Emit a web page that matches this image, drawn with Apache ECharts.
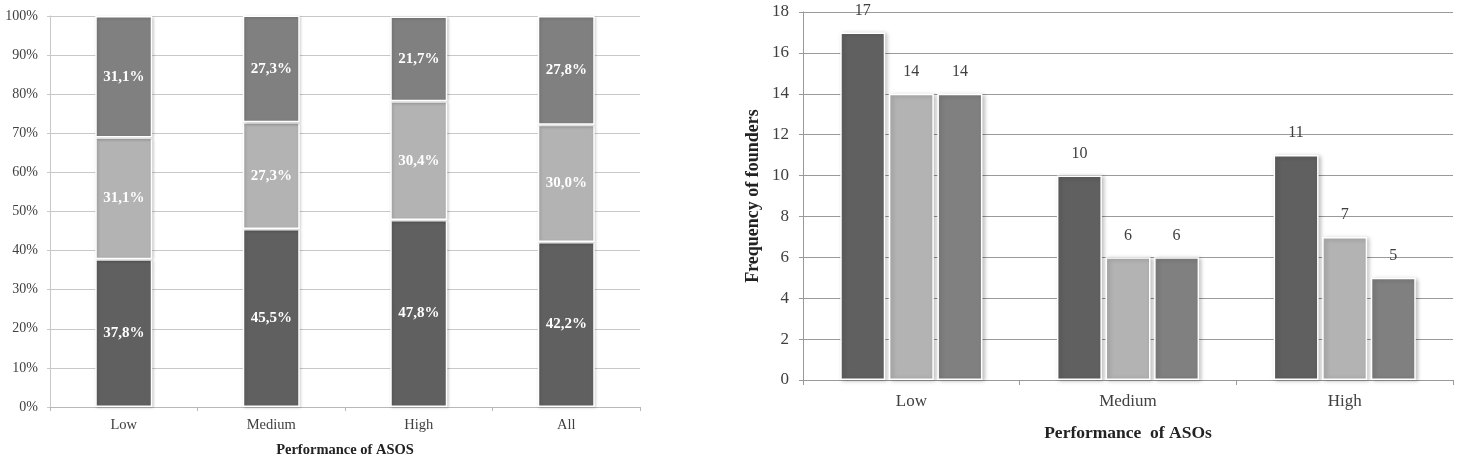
<!DOCTYPE html>
<html>
<head>
<meta charset="utf-8">
<script src="https://cdn.jsdelivr.net/npm/echarts@6/dist/echarts.min.js"></script>
<style>
  html, body { margin: 0; padding: 0; background: #fff; }
  #chart { width: 1457px; height: 456px; }
</style>
</head>
<body>
<div id="chart"></div>
<script>
// left chart: share of founders (percent, stacked)
const leftCats = ['Low', 'Medium', 'High', 'All'];
const leftBottom = [37.8, 45.5, 47.8, 42.2];
const leftMiddle = [31.1, 27.3, 30.4, 30.0];
const leftTop = [31.1, 27.3, 21.7, 27.8];

// right chart: frequency of founders
const rightCats = ['Low', 'Medium', 'High'];
const rightFirst = [17, 10, 11];
const rightSecond = [14, 6, 7];
const rightThird = [14, 6, 5];

const serif = "'Liberation Serif', 'Times New Roman', serif";
const dark = '#606060', light = '#b3b3b3', mid = '#808080';

const chart = echarts.init(document.getElementById('chart'));

function pct(p) {
  return p.value.toFixed(1).replace('.', ',') + '%';
}

function stackSeries(data, color) {
  return {
    type: 'bar',
    xAxisIndex: 0,
    yAxisIndex: 0,
    stack: 'share',
    data: data,
    barWidth: 57,
    itemStyle: {
      color: color,
      borderColor: '#fff',
      borderWidth: 1.5,
      shadowColor: 'rgba(0,0,0,0.2)',
      shadowBlur: 3,
      shadowOffsetX: 1,
      shadowOffsetY: 1
    },
    label: {
      show: true,
      position: 'inside',
      formatter: pct,
      color: '#fff',
      fontFamily: serif,
      fontWeight: 'bold',
      fontSize: 15
    }
  };
}

function freqSeries(data, color) {
  return {
    type: 'bar',
    xAxisIndex: 1,
    yAxisIndex: 1,
    data: data,
    barWidth: 45,
    barGap: '8%',
    itemStyle: {
      color: color,
      borderColor: '#fff',
      borderWidth: 1.5,
      shadowColor: 'rgba(0,0,0,0.25)',
      shadowBlur: 4,
      shadowOffsetX: 2,
      shadowOffsetY: 1
    },
    label: {
      show: true,
      position: 'top',
      distance: 14,
      color: '#404040',
      fontFamily: serif,
      fontSize: 16
    }
  };
}

const option = {
  animation: false,
  textStyle: { fontFamily: serif },
  grid: [
    { left: 50, top: 16, width: 590, height: 391, outerBoundsMode: 'none' },
    { left: 803, top: 12, width: 650, height: 368, outerBoundsMode: 'none' }
  ],
  xAxis: [
    {
      gridIndex: 0,
      type: 'category',
      data: leftCats,
      axisLine: { show: true, lineStyle: { color: '#b8b8b8' } },
      axisTick: { show: true, length: 4, lineStyle: { color: '#b8b8b8' } },
      axisLabel: { color: '#404040', fontSize: 14.5, margin: 11, fontFamily: serif },
      name: 'Performance of ASOS',
      nameLocation: 'middle',
      nameGap: 36,
      nameTextStyle: { color: '#222', fontWeight: 'bold', fontSize: 14.5, fontFamily: serif }
    },
    {
      gridIndex: 1,
      type: 'category',
      data: rightCats,
      axisLine: { show: true, lineStyle: { color: '#999' } },
      axisTick: { show: true, length: 5, lineStyle: { color: '#999' } },
      axisLabel: { color: '#404040', fontSize: 17, margin: 13, fontFamily: serif },
      name: 'Performance  of ASOs',
      nameLocation: 'middle',
      nameGap: 44,
      nameTextStyle: { color: '#222', fontWeight: 'bold', fontSize: 17.5, fontFamily: serif }
    }
  ],
  yAxis: [
    {
      gridIndex: 0,
      type: 'value',
      min: 0,
      max: 100,
      interval: 10,
      axisLine: { show: true, lineStyle: { color: '#c8c8c8' } },
      axisTick: { show: true, length: 3, lineStyle: { color: '#c8c8c8' } },
      axisLabel: { color: '#404040', fontSize: 14, margin: 12, formatter: '{value}%', fontFamily: serif },
      splitLine: { show: true, lineStyle: { color: '#c8c8c8' } }
    },
    {
      gridIndex: 1,
      type: 'value',
      min: 0,
      max: 18,
      interval: 2,
      axisLine: { show: true, lineStyle: { color: '#999' } },
      axisTick: { show: true, length: 4, lineStyle: { color: '#999' } },
      axisLabel: { color: '#404040', fontSize: 17, margin: 14, fontFamily: serif },
      splitLine: { show: true, lineStyle: { color: '#9a9a9a' } },
      name: 'Frequency of founders',
      nameLocation: 'middle',
      nameGap: 41,
      nameTextStyle: { color: '#222', fontWeight: 'bold', fontSize: 18, fontFamily: serif }
    }
  ],
  series: [
    stackSeries(leftBottom, dark),
    stackSeries(leftMiddle, light),
    stackSeries(leftTop, mid),
    freqSeries(rightFirst, dark),
    freqSeries(rightSecond, light),
    freqSeries(rightThird, mid)
  ]
};

chart.setOption(option);
</script>
</body>
</html>
